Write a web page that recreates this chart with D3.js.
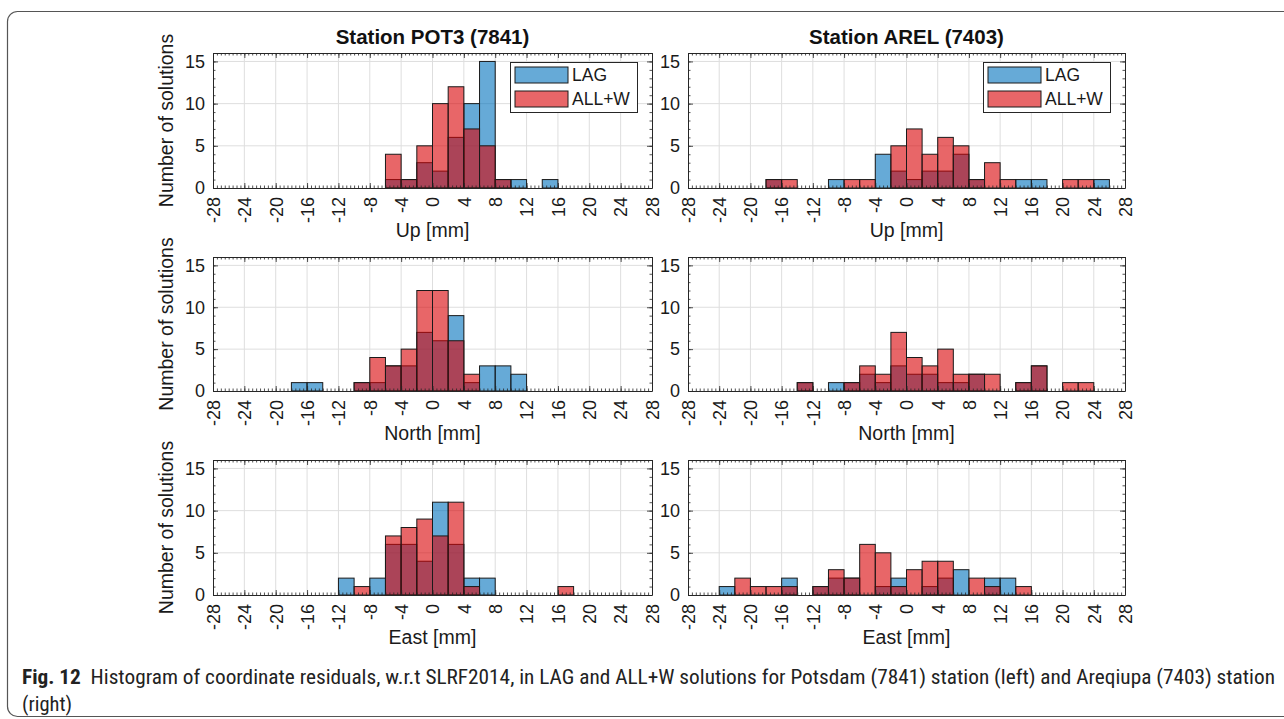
<!DOCTYPE html>
<html><head><meta charset="utf-8">
<script src="https://cdn.jsdelivr.net/npm/d3@7"></script>
<style>body{margin:0;background:#fff;overflow:hidden}</style>
</head><body>
<svg id="chart" width="1284" height="719"></svg>
<script>
// ---------- DATA ----------
const binLeft = [-28,-26,-24,-22,-20,-18,-16,-14,-12,-10,-8,-6,-4,-2,0,2,4,6,8,10,12,14,16,18,20,22,24,26];
const xTicks = [-28,-24,-20,-16,-12,-8,-4,0,4,8,12,16,20,24,28];
const yTicks = [0,5,10,15];
const seriesNames = ["LAG","ALL+W"];
const stationTitles = ["Station POT3 (7841)","Station AREL (7403)"];
const componentLabels = ["Up [mm]","North [mm]","East [mm]"];
const yAxisLabel = "Number of solutions";

//                  -28 -26 -24 -22 -20 -18 -16 -14 -12 -10 -8 -6 -4 -2  0  2  4  6  8 10 12 14 16 18 20 22 24 26
const upPOT3_LAG    = [0,0,0,0,0,0,0,0,0,0,0,1,1,3,2,6,10,15,1,1,0,1,0,0,0,0,0,0];
const upPOT3_ALLW   = [0,0,0,0,0,0,0,0,0,0,0,4,1,5,10,12,7,5,1,0,0,0,0,0,0,0,0,0];
const upAREL_LAG    = [0,0,0,0,0,1,0,0,0,1,0,0,4,2,1,2,2,4,1,0,0,1,1,0,0,0,1,0];
const upAREL_ALLW   = [0,0,0,0,0,1,1,0,0,0,1,1,0,5,7,4,6,5,1,3,1,0,0,0,1,1,0,0];
const northPOT3_LAG = [0,0,0,0,0,1,1,0,0,1,1,3,3,7,6,9,1,3,3,2,0,0,0,0,0,0,0,0];
const northPOT3_ALLW= [0,0,0,0,0,0,0,0,0,1,4,3,5,12,12,6,2,0,0,0,0,0,0,0,0,0,0,0];
const northAREL_LAG = [0,0,0,0,0,0,0,1,0,1,1,2,1,3,2,2,1,1,2,0,0,1,3,0,0,0,0,0];
const northAREL_ALLW= [0,0,0,0,0,0,0,1,0,0,1,3,2,7,4,3,5,2,2,2,0,1,3,0,1,1,0,0];
const eastPOT3_LAG  = [0,0,0,0,0,0,0,0,2,0,2,6,6,4,11,6,2,2,0,0,0,0,0,0,0,0,0,0];
const eastPOT3_ALLW = [0,0,0,0,0,0,0,0,0,1,0,7,8,9,7,11,1,0,0,0,0,0,1,0,0,0,0,0];
const eastAREL_LAG  = [0,0,1,0,0,0,2,0,1,2,2,0,1,2,0,1,2,3,0,2,2,0,0,0,0,0,0,0];
const eastAREL_ALLW = [0,0,0,2,1,1,1,0,1,3,2,6,5,1,3,4,4,0,2,1,0,1,0,0,0,0,0,0];

const captionBold = "Fig. 12";
const captionLine1 = "  Histogram of coordinate residuals, w.r.t SLRF2014, in LAG and ALL+W solutions for Potsdam (7841) station (left) and Areqiupa (7403) station";
const captionLine2 = "(right)";

// ---------- LAYOUT ----------
const svg = d3.select('#chart');
const FONT = '"Liberation Sans", Arial, Helvetica, sans-serif';
const CAPFONT = '"Liberation Sans Narrow", "Roboto Condensed", "Open Sans Condensed", "Arial Narrow", "Open Sans", sans-serif';
const AXC = '#262626';
const colors = ['rgb(0,114,189)','rgb(217,0,3)'];

svg.append('rect').attr('x',7.5).attr('y',11.5).attr('width',1300).attr('height',705)
  .attr('rx',10).attr('fill','none').attr('stroke','#555').attr('stroke-width',1.2);

const colsX = [[213,652],[688,1125]];
const rowsY = [[53,188],[257,391],[460,595]];

const panels = [
  [0,0,upPOT3_LAG,upPOT3_ALLW],[1,0,upAREL_LAG,upAREL_ALLW],
  [0,1,northPOT3_LAG,northPOT3_ALLW],[1,1,northAREL_LAG,northAREL_ALLW],
  [0,2,eastPOT3_LAG,eastPOT3_ALLW],[1,2,eastAREL_LAG,eastAREL_ALLW]
];
const fmt = d => String(d); // plain hyphen-minus, as in the reference

function panel(ci, ri, lag, allw){
  const [x0,x1] = colsX[ci], [y0,y1] = rowsY[ri];
  const x = d3.scaleLinear().domain([-28,28]).range([x0,x1]);
  const y = d3.scaleLinear().domain([0,16]).range([y1,y0]);
  const g = svg.append('g');

  // grid
  g.append('g').selectAll('line').data(xTicks.slice(1,-1)).join('line')
    .attr('x1',d=>x(d)).attr('x2',d=>x(d)).attr('y1',y0).attr('y2',y1)
    .attr('stroke','#dedede').attr('stroke-width',1);
  g.append('g').selectAll('line').data(yTicks.slice(1)).join('line')
    .attr('x1',x0).attr('x2',x1).attr('y1',d=>y(d)).attr('y2',d=>y(d))
    .attr('stroke','#dedede').attr('stroke-width',1);

  // bars
  [lag, allw].forEach((vals, si) => {
    g.append('g').selectAll('rect')
      .data(binLeft.map((b,i)=>({b, v: vals[i]})).filter(d=>d.v>0))
      .join('rect')
      .attr('x',d=>x(d.b)).attr('width',d=>x(d.b+2)-x(d.b))
      .attr('y',d=>y(d.v)).attr('height',d=>y(0)-y(d.v))
      .attr('fill',colors[si]).attr('fill-opacity',0.6)
      .attr('stroke','#1a1a1a').attr('stroke-width',1);
  });

  const minorX = d3.range(-28, 28.001, 0.5);
  const minorY = d3.range(0, 16.001, 1);

  // bottom axis
  const ab = g.append('g').attr('transform',`translate(0,${y1})`)
    .call(d3.axisBottom(x).tickValues(xTicks).tickFormat(fmt).tickSizeInner(-5).tickSizeOuter(0).tickPadding(0));
  ab.selectAll('text').attr('font-size',18).attr('fill','#1a1a1a')
    .attr('text-anchor','end').attr('transform','rotate(-90)')
    .attr('x',-9).attr('y',0).attr('dy','0.35em');
  g.append('g').attr('transform',`translate(0,${y1})`)
    .call(d3.axisBottom(x).tickValues(minorX).tickSizeInner(-2.5).tickSizeOuter(0).tickFormat(''))
    .call(s=>s.select('.domain').remove());
  // top axis
  g.append('g').attr('transform',`translate(0,${y0})`)
    .call(d3.axisTop(x).tickValues(xTicks).tickSizeInner(-5).tickSizeOuter(0).tickFormat(''));
  g.append('g').attr('transform',`translate(0,${y0})`)
    .call(d3.axisTop(x).tickValues(minorX).tickSizeInner(-2.5).tickSizeOuter(0).tickFormat(''))
    .call(s=>s.select('.domain').remove());
  // left axis
  const al = g.append('g').attr('transform',`translate(${x0},0)`)
    .call(d3.axisLeft(y).tickValues(yTicks).tickFormat(fmt).tickSizeInner(-5).tickSizeOuter(0).tickPadding(8));
  al.selectAll('text').attr('font-size',18).attr('fill','#1a1a1a');
  g.append('g').attr('transform',`translate(${x0},0)`)
    .call(d3.axisLeft(y).tickValues(minorY).tickSizeInner(-2.5).tickSizeOuter(0).tickFormat(''))
    .call(s=>s.select('.domain').remove());
  // right axis
  g.append('g').attr('transform',`translate(${x1},0)`)
    .call(d3.axisRight(y).tickValues(yTicks).tickSizeInner(-5).tickSizeOuter(0).tickFormat(''));
  g.append('g').attr('transform',`translate(${x1},0)`)
    .call(d3.axisRight(y).tickValues(minorY).tickSizeInner(-2.5).tickSizeOuter(0).tickFormat(''))
    .call(s=>s.select('.domain').remove());
  g.selectAll('.domain').attr('stroke',AXC).attr('stroke-width',1);
  g.selectAll('.tick line').attr('stroke',AXC).attr('stroke-width',0.8);
  g.selectAll('.tick text').attr('font-family',FONT);

  // x label
  g.append('text').attr('x',(x0+x1)/2).attr('y',y1+49).attr('text-anchor','middle')
    .attr('font-family',FONT).attr('font-size',19.5).attr('fill','#1a1a1a').text(componentLabels[ri]);
  // y label
  if(ci===0){
    g.append('text').attr('transform',`translate(${x0-40},${(y0+y1)/2}) rotate(-90)`)
      .attr('text-anchor','middle').attr('font-family',FONT).attr('font-size',19.5)
      .attr('fill','#1a1a1a').text(yAxisLabel);
  }
  // title + legend
  if(ri===0){
    g.append('text').attr('x',(x0+x1)/2).attr('y',44).attr('text-anchor','middle')
      .attr('font-family',FONT).attr('font-size',20.5).attr('font-weight','bold')
      .attr('fill','#111').text(stationTitles[ci]);
    const lx = x1-142, ly = y0+9;
    const lg = g.append('g').attr('transform',`translate(${lx},${ly})`);
    lg.append('rect').attr('x',0.5).attr('y',0.5).attr('width',127).attr('height',50)
      .attr('fill','#fff').attr('stroke',AXC).attr('stroke-width',1);
    seriesNames.forEach((nm,i)=>{
      lg.append('rect').attr('x',5).attr('y',5+i*24).attr('width',53).attr('height',16)
        .attr('fill',colors[i]).attr('fill-opacity',0.6).attr('stroke','#1a1a1a').attr('stroke-width',1);
      lg.append('text').attr('x',62).attr('y',13+i*24).attr('dy','0.36em')
        .attr('font-family',FONT).attr('font-size',17.5).attr('fill','#1a1a1a').text(nm);
    });
  }
}
panels.forEach(p=>panel(...p));

// caption (condensed, like the journal font)
const CAPSIZE = 20.5;
const cap = svg.append('text').attr('x',22).attr('y',684).attr('font-family',CAPFONT)
  .attr('font-size',CAPSIZE).attr('fill','#222');
cap.append('tspan').attr('font-weight','bold').text(captionBold);
cap.append('tspan').attr('xml:space','preserve').text(captionLine1);
const natural = cap.node().getComputedTextLength();
const target = 1253;
const ratio = Math.min(1, target / natural);
cap.attr('textLength',target).attr('lengthAdjust','spacingAndGlyphs');
const cap2 = svg.append('text').attr('x',22).attr('y',711).attr('font-family',CAPFONT)
  .attr('font-size',CAPSIZE).attr('fill','#222').text(captionLine2);
const n2 = cap2.node().getComputedTextLength();
cap2.attr('textLength', n2*ratio).attr('lengthAdjust','spacingAndGlyphs');
</script>
</body></html>
